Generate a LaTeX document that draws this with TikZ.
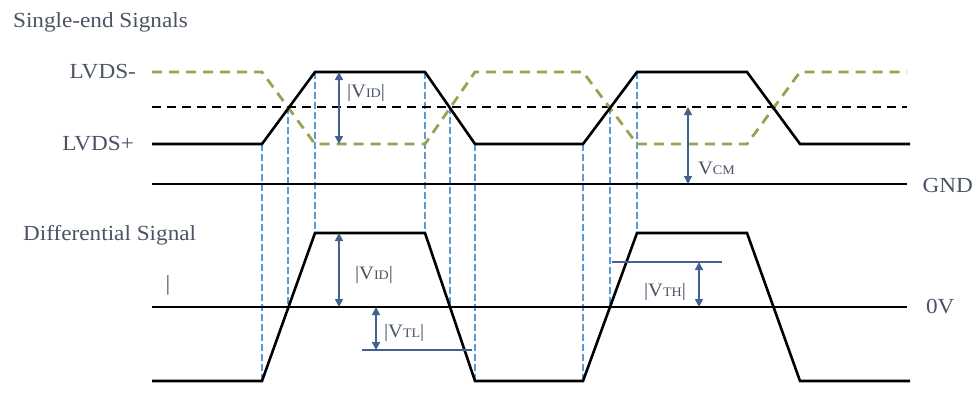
\documentclass[tikz,border=0pt]{standalone}
\usepackage{fontspec}
\setmainfont{Liberation Serif}[FakeStretch=1.08]
\usetikzlibrary{arrows.meta, positioning}
\definecolor{cgreen}{HTML}{94A552}
\definecolor{cblue}{HTML}{5B9BD5}
\definecolor{cnavy}{HTML}{44628E}
\definecolor{ctext}{HTML}{4A5464}
\newcommand{\vabs}[1]{|V{\fontsize{13}{13}\selectfont #1}|}
\tikzset{
  every picture/.style={font=\fontsize{21.5}{24}\selectfont, line width=2.2pt},
  sig/.style={draw=black, line width=2.6pt, line join=miter},
  neg/.style={draw=cgreen, line width=2.8pt, dash pattern=on 10pt off 7pt},
  vref/.style={draw=black, line width=2.6pt, dash pattern=on 9pt off 6pt},
  guide/.style={draw=cblue, line width=2.2pt, dash pattern=on 7pt off 3pt},
  dim/.style={{Triangle[length=8pt,width=8pt]}-{Triangle[length=8pt,width=8pt]}, draw=cnavy, line width=1.6pt},
  thr/.style={draw=cnavy, line width=2pt},
  lbl/.style={text=ctext, inner sep=0pt},
  vlbl/.style={lbl, font=\fontsize{19}{21}\selectfont},
}
\begin{document}
\begin{tikzpicture}[x=1pt, y=-1pt]
  \useasboundingbox (0,0) rectangle (977,394);
  \foreach \x/\ya/\yb in {262/144/381, 288/107/307, 315/72/233, 425/72/233, 450/107/307,
    475/144/381, 583/144/381, 610/107/307, 637/72/233} \draw[guide] (\x,\ya) -- (\x,\yb);
  \draw[vref] (152,107) -- (907,107);
  \draw[neg] (152,72) -- (262,72) -- (315,144) -- (425,144) -- (475,72) -- (583,72) -- (637,144)
    -- (747,144) -- (800,72) -- (907,72);
  \draw[sig] (152,144) -- (262,144) -- (315,72) -- (425,72) -- (475,144) -- (583,144) -- (637,72)
    -- (747,72) -- (800,144) -- (910,144);
  \draw[sig] (152,184) -- (907,184);
  \draw[sig] (152,307) -- (907,307);
  \draw[sig] (152,381) -- (262,381) -- (315,233) -- (425,233) -- (475,381) -- (583,381) -- (637,233)
    -- (747,233) -- (800,381) -- (910,381);
  \draw[thr] (362,350) -- (472,350);
  \draw[thr] (612,262) -- (722,262);
  \coordinate (vidtop) at (339,72);  \coordinate (vidbot) at (339,144);
  \coordinate (cmtop) at (688,107);  \coordinate (cmbot) at (688,184);
  \coordinate (didtop) at (339,233); \coordinate (didbot) at (339,307);
  \coordinate (tltop) at (376,307);  \coordinate (tlbot) at (376,350);
  \coordinate (thtop) at (699,262);  \coordinate (thbot) at (699,307);
  \draw[dim] (vidtop) -- (vidbot);
  \draw[dim] (cmtop) -- (cmbot);
  \draw[dim] (didtop) -- (didbot);
  \draw[dim] (tltop) -- (tlbot);
  \draw[dim] (thtop) -- (thbot);
  \node[lbl, anchor=west] (single) at (12,22) {Single-end Signals};
  \node[lbl, anchor=east] (lvdsm) at (137,72) {LVDS-};
  \node[lbl, anchor=east] (lvdsp) at (135,144) {LVDS+};
  \node[lbl, anchor=east] (gnd) at (974,185) {GND};
  \node[lbl, anchor=west] (diff) at (22,235) {Differential Signal};
  \node[lbl] (bar) at (168,285) {|};
  \node[lbl, anchor=west] (zerov) at (925,307) {0V};
  \node[vlbl, anchor=west] (vidt) at (346,93) {\vabs{ID}};
  \node[vlbl, anchor=west] (vcm) at (697,168) {V{\fontsize{13}{13}\selectfont CM}};
  \node[vlbl, anchor=west] (vidb) at (354,275) {\vabs{ID}};
  \node[vlbl, anchor=west] (vtl) at (383,333) {\vabs{TL}};
  \node[vlbl, anchor=west] (vth) at (643,292) {\vabs{TH}};
\end{tikzpicture}
\end{document}
